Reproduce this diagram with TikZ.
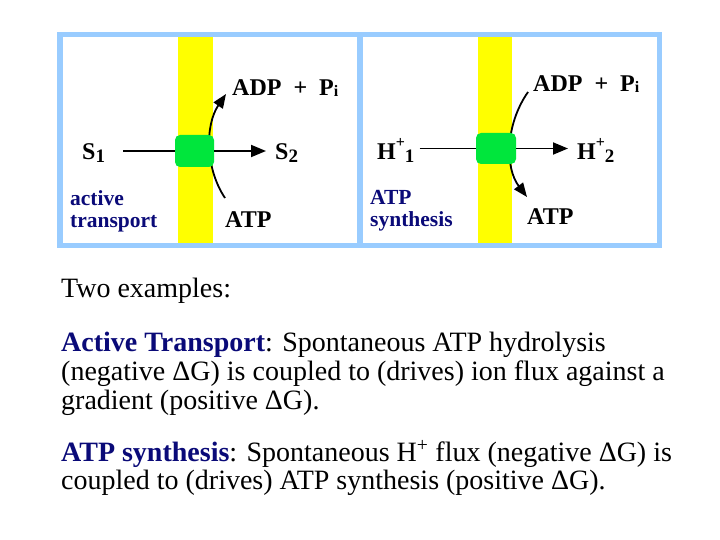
\documentclass[tikz,border=0pt]{standalone}
\usepackage{fontspec}
\setmainfont{Liberation Serif}
\usetikzlibrary{arrows.meta}
\definecolor{frameblue}{RGB}{153,204,255}
\definecolor{memyellow}{RGB}{255,255,0}
\definecolor{protgreen}{RGB}{0,230,60}
\definecolor{navytext}{RGB}{10,10,120}
\newcommand\mysub[1]{\raisebox{-3pt}{\fontsize{19}{19}\selectfont #1}}
\newcommand\mysup[1]{\raisebox{12pt}{\fontsize{16}{16}\selectfont #1}}
\newcommand\mysubi[1]{\raisebox{-1pt}{\fontsize{16}{16}\selectfont #1}}
\begin{document}
\begin{tikzpicture}[x=1pt,y=-1pt,
  lbl/.style={font=\fontsize{24}{24}\selectfont\bfseries, inner sep=0pt, anchor=base west},
  tag/.style={font=\fontsize{21.5}{21.5}\selectfont\bfseries, text=navytext, inner sep=0pt, anchor=base west},
  body/.style={font=\fontsize{28}{28}\selectfont, inner sep=0pt, anchor=base west},
  prot/.style={fill=protgreen, rounded corners=5pt, inner sep=0pt},
  conn/.style={line width=1.8pt},
  arr/.style={line width=1.8pt, -{Triangle[length=15pt,width=12pt]}},
  carr/.style={line width=1.8pt, -{Triangle[length=14pt,width=11pt]}}]
\useasboundingbox (0,0) rectangle (720,540);
\fill[white] (0,0) rectangle (720,540);
% membranes
\fill[memyellow] (178,37) rectangle (213,243);
\fill[memyellow] (478,37) rectangle (512,243);
% frame
\draw[frameblue, line width=5.5pt] (60,34.5) rectangle (659.5,245.5);
\draw[frameblue, line width=5.5pt] (360,34.5) -- (360,245.5);

% ---- left panel
\node[lbl] (s1) at (82,160) {S\mysub{1}};
\node[lbl] (s2) at (275,160) {S\mysub{2}};
\node[lbl] (adp1) at (232,96) {ADP~~+~~P\mysubi{i}};
\node[lbl] (atp1) at (225,227) {ATP};
\node[tag] (t1a) at (70,206) {active};
\node[tag] (t1b) at (70,227) {transport};
\coordinate (c1s) at (225,198);
\coordinate (c1e) at (226,94);
\draw[carr] (c1s) .. controls (205,168) and (205,125) .. (c1e);
\node[prot, minimum width=39pt, minimum height=32pt] (p1) at (194.5,151) {};
\draw[conn] ([xshift=18pt]s1.east |- p1) -- (p1.west);
\draw[arr] (p1.east) -- ([xshift=-9pt]s2.west |- p1);

% ---- right panel
\node[lbl] (h1) at (377,160) {H\mysup{+}\mysub{1}};
\node[lbl] (h2) at (577,160) {H\mysup{+}\mysub{2}};
\node[lbl] (adp2) at (533,92) {ADP~~+~~P\mysubi{i}};
\node[lbl] (atp2) at (527,225) {ATP};
\node[tag] (t2a) at (370,205) {ATP};
\node[tag] (t2b) at (370,226) {synthesis};
\coordinate (c2s) at (528,92);
\coordinate (c2e) at (527,197);
\draw[carr] (c2s) .. controls (505,125) and (505,168) .. (c2e);
\node[prot, minimum width=40pt, minimum height=31pt] (p2) at (496,148.5) {};
\draw[conn] ([xshift=5pt]h1.east |- p2) -- (p2.west);
\draw[arr] (p2.east) -- ([xshift=-9pt]h2.west |- p2);

% ---- text
\node[body] (l0) at (61,297) {Two examples:};
\node[body] (l1) at (61,351) {\textcolor{navytext}{\bfseries Active Transport}: Spontaneous ATP hydrolysis};
\node[body] (l2) at (61,380) {(negative ΔG) is coupled to (drives) ion flux against a};
\node[body] (l3) at (61,409) {gradient (positive ΔG).};
\node[body] (l4) at (61,461) {\textcolor{navytext}{\bfseries ATP synthesis}: Spontaneous H\textsuperscript{+} flux (negative ΔG) is};
\node[body] (l5) at (61,489) {coupled to (drives) ATP synthesis (positive ΔG).};
\end{tikzpicture}
\end{document}
